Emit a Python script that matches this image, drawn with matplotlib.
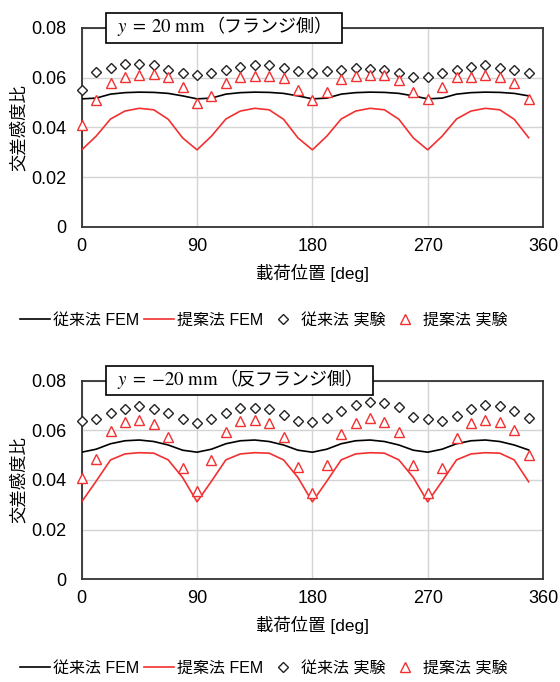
import numpy as np
import matplotlib
matplotlib.use('Agg')
from matplotlib import pyplot as plt
from matplotlib.lines import Line2D
from matplotlib.offsetbox import AnchoredOffsetbox, HPacker, TextArea, DrawingArea

plt.rcParams['font.family'] = ['Liberation Sans', 'Noto Sans CJK JP', 'DejaVu Sans']
plt.rcParams['mathtext.fontset'] = 'stix'

# load position [deg]
angle = [0, 11.25, 22.5, 33.75, 45, 56.25, 67.5, 78.75,
         90, 101.25, 112.5, 123.75, 135, 146.25, 157.5, 168.75,
         180, 191.25, 202.5, 213.75, 225, 236.25, 247.5, 258.75,
         270, 281.25, 292.5, 303.75, 315, 326.25, 337.5, 348.75]

# y = 20 mm (flange side)
top_fem_old = [0.0515, 0.0518, 0.0534, 0.0540, 0.0542, 0.0541, 0.0537, 0.0527,
               0.0515, 0.0518, 0.0534, 0.0540, 0.0542, 0.0541, 0.0537, 0.0527,
               0.0515, 0.0518, 0.0534, 0.0540, 0.0542, 0.0541, 0.0537, 0.0527,
               0.0515, 0.0518, 0.0534, 0.0540, 0.0542, 0.0541, 0.0537, 0.0527]
top_fem_new = [0.0310, 0.0365, 0.0434, 0.0466, 0.0477, 0.0471, 0.0433, 0.0358,
               0.0310, 0.0365, 0.0434, 0.0466, 0.0477, 0.0471, 0.0433, 0.0358,
               0.0310, 0.0365, 0.0434, 0.0466, 0.0477, 0.0471, 0.0433, 0.0358,
               0.0310, 0.0365, 0.0434, 0.0466, 0.0477, 0.0471, 0.0433, 0.0359]
top_exp_old = [0.0551, 0.0622, 0.0641, 0.0654, 0.0657, 0.0651, 0.0631, 0.0620,
               0.0611, 0.0620, 0.0631, 0.0643, 0.0650, 0.0650, 0.0639, 0.0625,
               0.0620, 0.0625, 0.0631, 0.0639, 0.0636, 0.0631, 0.0620, 0.0604,
               0.0604, 0.0620, 0.0631, 0.0645, 0.0650, 0.0641, 0.0631, 0.0620]
top_exp_new = [0.0410, 0.0511, 0.0580, 0.0602, 0.0611, 0.0615, 0.0604, 0.0562,
               0.0497, 0.0528, 0.0578, 0.0601, 0.0607, 0.0608, 0.0599, 0.0551,
               0.0511, 0.0544, 0.0594, 0.0608, 0.0611, 0.0611, 0.0591, 0.0544,
               0.0515, 0.0562, 0.0602, 0.0604, 0.0610, 0.0604, 0.0580, 0.0514]

# y = -20 mm (opposite side)
bot_fem_old = [0.0512, 0.0524, 0.0546, 0.0558, 0.0561, 0.0555, 0.0541, 0.0520,
               0.0512, 0.0524, 0.0546, 0.0558, 0.0561, 0.0555, 0.0541, 0.0520,
               0.0512, 0.0524, 0.0546, 0.0558, 0.0561, 0.0555, 0.0541, 0.0520,
               0.0512, 0.0524, 0.0546, 0.0558, 0.0561, 0.0555, 0.0541, 0.0521]
bot_fem_new = [0.0312, 0.0395, 0.0481, 0.0505, 0.0510, 0.0508, 0.0481, 0.0410,
               0.0312, 0.0395, 0.0481, 0.0505, 0.0510, 0.0508, 0.0481, 0.0410,
               0.0312, 0.0395, 0.0481, 0.0505, 0.0510, 0.0508, 0.0481, 0.0410,
               0.0312, 0.0395, 0.0481, 0.0505, 0.0510, 0.0508, 0.0481, 0.0393]
bot_exp_old = [0.0638, 0.0644, 0.0669, 0.0686, 0.0698, 0.0687, 0.0671, 0.0644,
               0.0631, 0.0644, 0.0669, 0.0691, 0.0691, 0.0685, 0.0662, 0.0639,
               0.0635, 0.0651, 0.0679, 0.0701, 0.0714, 0.0709, 0.0693, 0.0652,
               0.0644, 0.0638, 0.0659, 0.0685, 0.0702, 0.0698, 0.0678, 0.0651]
bot_exp_new = [0.0407, 0.0485, 0.0599, 0.0632, 0.0642, 0.0626, 0.0574, 0.0447,
               0.0357, 0.0481, 0.0595, 0.0639, 0.0642, 0.0628, 0.0572, 0.0454,
               0.0349, 0.0460, 0.0585, 0.0628, 0.0648, 0.0635, 0.0595, 0.0460,
               0.0346, 0.0447, 0.0568, 0.0628, 0.0642, 0.0635, 0.0601, 0.0501]

xticks = [0, 90, 180, 270, 360]
yticks = [0, 0.02, 0.04, 0.06, 0.08]
ytick_labels = ['0', '0.02', '0.04', '0.06', '0.08']
labels = ['従来法 FEM', '提案法 FEM', '従来法 実験', '提案法 実験']

RED = '#f23030'
FS = 12.5


def draw_panel(ax, fem_old, fem_new, exp_old, exp_new, math_txt, jp_txt, leg_y):
    ax.plot(angle, fem_old, color='black', lw=1.2, zorder=3)
    ax.plot(angle, fem_new, color=RED, lw=1.2, zorder=3)
    ax.plot(angle, exp_old, ls='none', marker='D', ms=5, mfc='white',
            mec='#222222', mew=1.0, zorder=4, clip_on=False)
    ax.plot(angle, exp_new, ls='none', marker='^', ms=7, mfc='white',
            mec=RED, mew=1.0, zorder=4, clip_on=False)
    ax.set_xlim(0, 360)
    ax.set_ylim(0, 0.08)
    ax.set_xticks(xticks)
    ax.set_yticks(yticks)
    ax.set_yticklabels(ytick_labels)
    ax.tick_params(length=0, labelsize=13)
    ax.tick_params(axis='y', pad=11)
    ax.tick_params(axis='x', pad=8)
    ax.grid(color='#d4d4d4', lw=1.0)
    ax.set_axisbelow(True)
    for s in ax.spines.values():
        s.set_color('#333333')
        s.set_linewidth(1.3)
    ax.set_ylabel('交差感度比', fontsize=FS, labelpad=3)
    ax.set_xlabel('載荷位置 [deg]', fontsize=FS, labelpad=6)

    # title box sitting on the top spine
    t1 = TextArea(math_txt, textprops=dict(fontsize=13.5))
    t2 = TextArea(jp_txt, textprops=dict(fontsize=13))
    pack = HPacker(children=[DrawingArea(5, 1), t1, t2, DrawingArea(4, 1)],
                   align='baseline', pad=0, sep=0)
    box = AnchoredOffsetbox(loc='center left', child=pack, pad=0.3,
                            borderpad=0, frameon=True,
                            bbox_to_anchor=(0.053, 1.0),
                            bbox_transform=ax.transAxes)
    box.patch.set_edgecolor('black')
    box.patch.set_linewidth(1.2)
    box.patch.set_boxstyle('square', pad=0)
    box.set_zorder(10)
    ax.add_artist(box)

    handles = [Line2D([], [], color='black', lw=1.2),
               Line2D([], [], color=RED, lw=1.2),
               Line2D([], [], ls='none', marker='D', ms=5, mfc='white', mec='#222222'),
               Line2D([], [], ls='none', marker='^', ms=7, mfc='white', mec=RED)]
    ax.figure.legend(handles, labels, loc='center', ncol=4, frameon=False,
                     fontsize=11.5, bbox_to_anchor=(0.471, leg_y),
                     handlelength=1.9, handletextpad=0.2, columnspacing=0.25)


fig = plt.figure(figsize=(5.6, 6.82), dpi=100)
ax1 = fig.add_axes([0.1459, 0.6672, 0.8238, 0.2918])
ax2 = fig.add_axes([0.1459, 0.1506, 0.8238, 0.2912])

draw_panel(ax1, top_fem_old, top_fem_new, top_exp_old, top_exp_new,
           r'$y\;=\;20\ \mathrm{mm}$', '（フランジ側）', 0.5308)
draw_panel(ax2, bot_fem_old, bot_fem_new, bot_exp_old, bot_exp_new,
           r'$y\;=\;{-20}\ \mathrm{mm}$', '（反フランジ側）', 0.0205)

fig.savefig('out.png', dpi=100)
